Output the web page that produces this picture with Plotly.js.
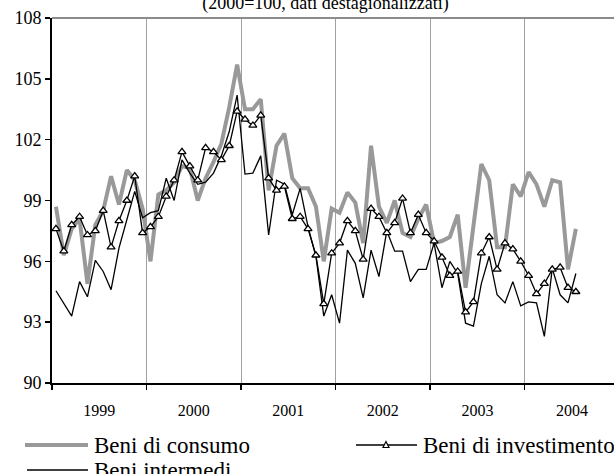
<!DOCTYPE html>
<html><head><meta charset="utf-8">
<script src="https://cdn.plot.ly/plotly-3.0.1.min.js"></script>
<style>html,body{margin:0;padding:0;background:#fff}#chart{width:614px;height:474px}</style>
</head><body><div id="chart"></div>
<script>
// ---- data (monthly, Jan 1999 - Jul 2004) ----
const years = ['1999','2000','2001','2002','2003','2004'];
const consumo = [
  98.7, 96.3, 97.6, 98.1, 94.9, 97.8, 98.5, 100.2, 98.8, 100.5, 100.0, 98.6,
  96.0, 99.3, 99.5, 99.9, 100.7, 100.6, 99.0, 100.1, 100.9, 101.8, 103.6, 105.7,
  103.5, 103.5, 104.0, 99.5, 101.7, 102.3, 100.1, 99.6, 99.6, 98.7, 96.0, 98.6,
  98.4, 99.4, 98.9, 96.9, 101.7, 98.7, 97.9, 99.0, 97.4, 97.2, 98.1, 98.8,
  96.9, 97.0, 97.2, 98.3, 94.7, 97.6, 100.8, 100.0, 96.7, 96.7, 99.8, 99.2,
  100.4, 99.8, 98.7, 100.0, 99.9, 95.6, 97.6
];
const investimento = [
  97.6, 96.5, 97.8, 98.2, 97.3, 97.5, 98.5, 96.7, 98.0, 99.0, 100.2, 97.4,
  97.7, 98.2, 99.2, 100.0, 101.4, 100.7, 100.0, 101.6, 101.4, 101.0, 101.7, 103.4,
  103.0, 102.7, 103.2, 100.1, 99.5, 99.7, 98.1, 98.2, 97.6, 96.3, 93.9, 96.4,
  96.9, 98.0, 97.5, 96.1, 98.6, 98.2, 97.4, 97.9, 99.1, 97.4, 98.3, 97.4,
  97.0, 96.2, 95.3, 95.5, 93.5, 94.0, 96.4, 97.2, 95.6, 96.9, 96.6, 96.0,
  95.3, 94.4, 94.9, 95.6, 95.7, 94.7, 94.5
];
const intermedi = [
  94.55, 93.95, 93.3, 95.0, 94.25, 96.05, 95.5, 94.6, 96.65, 98.05, 99.45, 98.15,
  98.4, 98.5, 100.1, 99.0, 101.0, 100.35, 99.8, 99.9, 100.35, 101.2, 102.4, 104.2,
  100.3, 100.35, 101.2, 97.3, 100.0, 99.8, 98.3, 99.6, 97.7, 96.25, 93.3, 94.35,
  92.95, 96.55, 95.9, 94.2, 96.55, 95.25, 97.5, 96.5, 96.5, 95.0, 95.6, 95.6,
  96.9, 94.7, 96.0, 95.4, 92.95, 92.8, 94.9, 96.25, 94.35, 93.95, 95.0, 93.8,
  94.0, 93.95, 92.3, 95.65, 94.35, 93.95, 95.4
];
const seriesNames = ['Beni di consumo', 'Beni di investimento', 'Beni intermedi'];
const titleText = '(2000=100, dati destagionalizzati)';
const yTicks = [90, 93, 96, 99, 102, 105, 108];

// ---- layout geometry ----
const W = 614, H = 474, L = 52, R = 0, T = 18, B = 91;
const pw = W - L - R, ph = H - T - B;
const monthsShown = 71.34;           // visible months on the axis (right side is cut)
const FONT = 'Liberation Serif, Times New Roman, serif';
const GRAY = '#999999';

// month positions: each month centred in its slot
const xPos = consumo.map((_, i) => i + 0.5);
const yearCentres = years.map((_, k) => 12 * k + 6);

const traces = [
  {x: xPos, y: consumo, name: seriesNames[0], type: 'scatter', mode: 'lines',
   line: {color: GRAY, width: 4}},
  {x: xPos, y: intermedi, name: seriesNames[2], type: 'scatter', mode: 'lines',
   line: {color: '#000', width: 1.3}},
  {x: xPos, y: investimento, name: seriesNames[1], type: 'scatter', mode: 'lines+markers',
   line: {color: '#000', width: 1.3},
   marker: {symbol: 'triangle-up', size: 7, color: '#fff', line: {color: '#000', width: 1.3}}}
];

// helpers pixel -> paper
const px = x => (x - L) / pw;
const py = y => (H - B - y) / ph;

// custom legend (two columns)
const legRow1 = 445, legRow2 = 470;
const shapes = [
  {type: 'line', xref: 'paper', yref: 'paper', x0: 0, x1: 1, y0: 1, y1: 1,
   line: {color: '#8c8c8c', width: 2}},
  {type: 'line', xref: 'paper', yref: 'paper', x0: px(25), x1: px(88), y0: py(legRow1), y1: py(legRow1),
   line: {color: GRAY, width: 4}},
  {type: 'line', xref: 'paper', yref: 'paper', x0: px(356), x1: px(417), y0: py(legRow1), y1: py(legRow1),
   line: {color: '#000', width: 1.3}},
  {type: 'path', xref: 'paper', yref: 'paper',
   path: `M ${px(383)} ${py(legRow1 + 2.5)} L ${px(389)} ${py(legRow1 + 2.5)} L ${px(386)} ${py(legRow1 - 3.5)} Z`,
   fillcolor: '#fff', line: {color: '#000', width: 1.2}},
  {type: 'line', xref: 'paper', yref: 'paper', x0: px(27), x1: px(88), y0: py(legRow2), y1: py(legRow2),
   line: {color: '#000', width: 1.3}}
];
const annotations = [
  {text: seriesNames[0], x: px(92), y: py(legRow1), xanchor: 'left', yanchor: 'middle'},
  {text: seriesNames[1], x: px(421), y: py(legRow1), xanchor: 'left', yanchor: 'middle'},
  {text: seriesNames[2], x: px(92), y: py(legRow2), xanchor: 'left', yanchor: 'middle'}
].map(a => Object.assign(a, {xref: 'paper', yref: 'paper', showarrow: false,
  font: {family: FONT, size: 23, color: '#000'}}));

const layout = {
  width: W, height: H,
  margin: {l: L, r: R, t: T, b: B, pad: 0},
  paper_bgcolor: '#fff', plot_bgcolor: '#fff',
  showlegend: false,
  font: {family: FONT, color: '#000'},
  title: {text: titleText, font: {family: FONT, size: 18, color: '#000'},
          xref: 'container', yref: 'container', x: 325.5 / W, y: 1 - 2.5 / H,
          xanchor: 'center', yanchor: 'middle'},
  xaxis: {
    range: [0, monthsShown], tickmode: 'array', tickvals: yearCentres, ticktext: years,
    ticks: '', showgrid: false, zeroline: false,
    showline: true, linecolor: '#000', linewidth: 2,
    tickfont: {family: FONT, size: 16, color: '#000'}, ticklabelstandoff: 12,
    minor: {tickmode: 'linear', tick0: 0, dtick: 12, ticks: 'outside', ticklen: 5,
            tickwidth: 1.5, tickcolor: '#000', showgrid: true, gridcolor: '#a0a0a0', gridwidth: 1},
    fixedrange: true
  },
  yaxis: {
    range: [90, 108], tickmode: 'array', tickvals: yTicks, ticktext: yTicks.map(String),
    ticks: 'outside', ticklen: 5, tickwidth: 1.5, tickcolor: '#000',
    showgrid: false, zeroline: false, showline: true, linecolor: '#000', linewidth: 2,
    tickfont: {family: FONT, size: 18, color: '#000'},
    fixedrange: true
  },
  shapes: shapes,
  annotations: annotations
};

Plotly.newPlot('chart', traces, layout, {displayModeBar: false, staticPlot: true});
</script>
</body></html>
